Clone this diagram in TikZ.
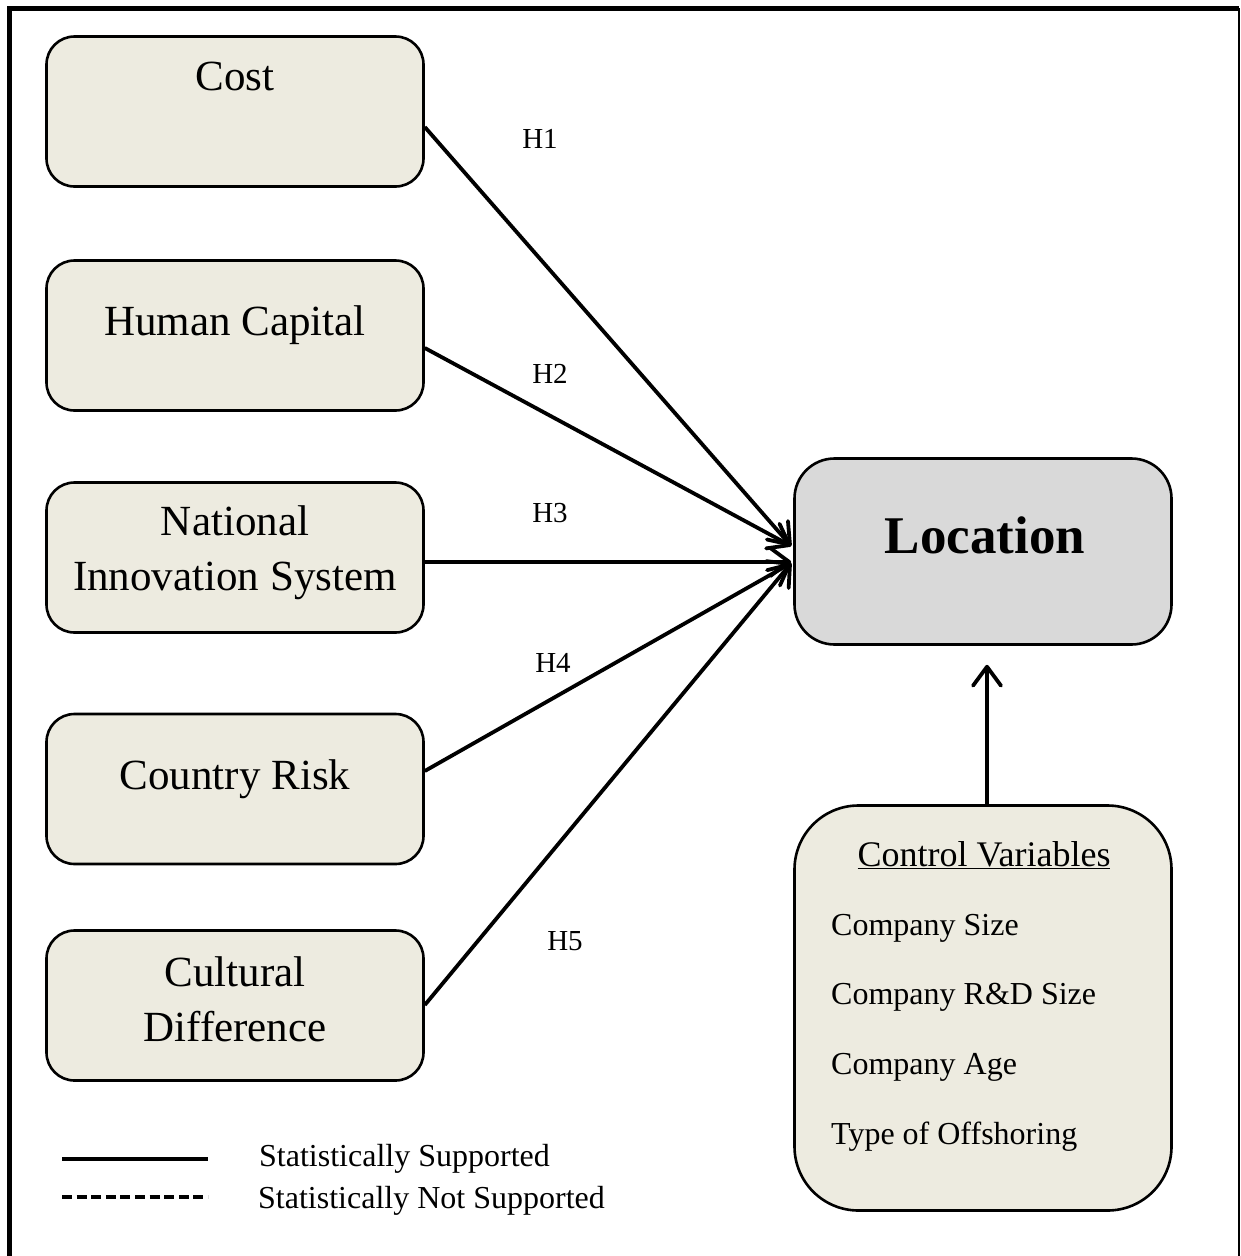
\documentclass[tikz,border=0pt]{standalone}
\usepackage{fontspec}
\setmainfont{Liberation Serif}
\usetikzlibrary{arrows.meta}
\definecolor{boxfill}{RGB}{237,235,224}
\definecolor{locfill}{RGB}{217,217,217}
\begin{document}
\begin{tikzpicture}[x=1pt,y=-1pt,
  factor/.style={draw, line width=2.6pt, fill=boxfill, rounded corners=28pt,
    minimum width=377pt, minimum height=150pt, inner sep=0pt},
  bigtxt/.style={anchor=base, inner sep=0pt, align=center,
    font=\fontsize{43}{55}\selectfont},
  htxt/.style={anchor=base, inner sep=0pt, font=\fontsize{29}{34}\selectfont},
  itemtxt/.style={anchor=base west, inner sep=0pt, font=\fontsize{32}{38}\selectfont},
  link/.style={line width=3.8pt, -{Straight Barb[length=19pt,width=28pt,round]}},
  legendline/.style={line width=4pt}
]
\useasboundingbox (0,0) rectangle (1241,1256);
\clip (0,0) rectangle (1241,1256);

% outer frame
\draw[line width=5pt] (9.5,1262) -- (9.5,8) -- (1239,8);
\draw[line width=2pt] (1239,8) -- (1239,1262);

% explanatory factors
\node[factor] (cost) at (235,111.5) {};
\node[factor] (hc)   at (235,335.5) {};
\node[factor] (nis)  at (235,557.5) {};
\node[factor] (cr)   at (235,789)   {};
\node[factor] (cd)   at (235,1005.5) {};

% the base anchor of a two-line node sits on its last line
\node[bigtxt] (costtxt) at (235,90)  {Cost};
\node[bigtxt] (hctxt)   at (235,335) {Human Capital};
\node[bigtxt] (nistxt)  at (235,590) {National\\Innovation System};
\node[bigtxt] (crtxt)   at (235,789) {Country Risk};
\node[bigtxt] (cdtxt)   at (235,1041) {Cultural\\Difference};

% dependent variable
\node[draw, line width=2.6pt, fill=locfill, rounded corners=40pt,
  minimum width=377pt, minimum height=186pt, inner sep=0pt] (loc) at (983,551.5) {};
\node[anchor=base, inner sep=0pt, font=\fontsize{53}{60}\bfseries\selectfont]
  (loctxt) at (985,553) {Location};

% control variables
\node[draw, line width=2.6pt, fill=boxfill, rounded corners=64pt,
  minimum width=377pt, minimum height=405pt, inner sep=0pt] (ctrl) at (983,1008) {};
\node[anchor=base, inner sep=0pt, font=\fontsize{36}{42}\selectfont]
  (ctrltxt) at (984,866) {\underline{Control Variables}};
\node[itemtxt] (size)  at (831,935)  {Company Size};
\node[itemtxt] (rd)    at (831,1004) {Company R\&D Size};
\node[itemtxt] (age)   at (831,1074) {Company Age};
\node[itemtxt] (type)  at (831,1144) {Type of Offshoring};

% hypotheses
\draw[link] ([yshift=-15.5pt]cost.east) -- ([xshift=-2pt,yshift=5.5pt]loc.west);
\draw[link] ([yshift=-12.5pt]hc.east)   -- ([xshift=-2pt,yshift=5.5pt]loc.west);
\draw[link] ([yshift=-4.5pt]nis.east)   -- ([xshift=-2pt,yshift=-10.5pt]loc.west);
\draw[link] ([yshift=18pt]cr.east)      -- ([xshift=-2pt,yshift=-11.5pt]loc.west);
\draw[link] ([yshift=0.5pt]cd.east)     -- ([xshift=-2pt,yshift=-11.5pt]loc.west);
\draw[link] ([xshift=4pt]ctrl.north)    -- ([xshift=4pt,yshift=-19pt]loc.south);

\node[htxt] (h1) at (540,148) {H1};
\node[htxt] (h2) at (550,383) {H2};
\node[htxt] (h3) at (550,522) {H3};
\node[htxt] (h4) at (553,672) {H4};
\node[htxt] (h5) at (565,950) {H5};

% legend
\coordinate (sa) at (62,1159);
\coordinate (sb) at (208,1159);
\coordinate (na) at (62,1197);
\coordinate (nb) at (208,1197);
\draw[legendline] (sa) -- (sb);
\draw[legendline, dash pattern=on 10pt off 4.6pt] (na) -- (nb);
\node[itemtxt] (sup)  at (259,1166) {Statistically Supported};
\node[itemtxt] (nsup) at (258,1208) {Statistically Not Supported};
\end{tikzpicture}
\end{document}
